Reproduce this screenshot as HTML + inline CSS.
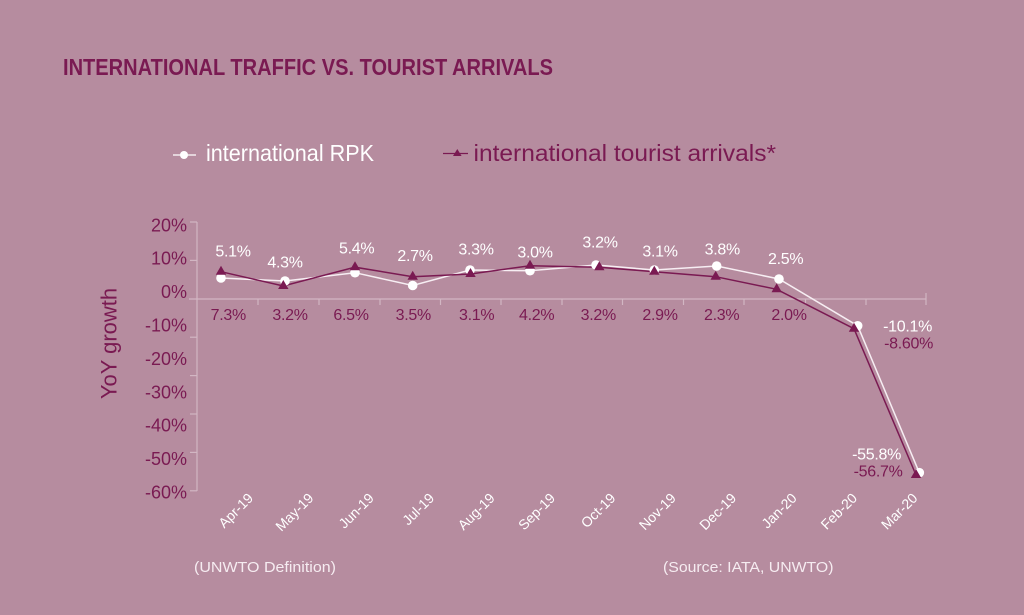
<!DOCTYPE html>
<html>
<head>
<meta charset="utf-8">
<style>
  html, body { margin:0; padding:0; background:#b68c9f; }
  body { width:1024px; height:615px; overflow:hidden; }
  svg { display:block; }
  text { font-family: "Liberation Sans", "DejaVu Sans", sans-serif; }
</style>
</head>
<body>
<svg width="1024" height="615" viewBox="0 0 1024 615" xmlns="http://www.w3.org/2000/svg">
  <rect x="0" y="0" width="1024" height="615" fill="#b68c9f"/>

  <!-- Title -->
  <text x="63" y="75" font-size="23" font-weight="bold" fill="#7a1a52" textLength="490" lengthAdjust="spacingAndGlyphs">INTERNATIONAL TRAFFIC VS. TOURIST ARRIVALS</text>

  <!-- Legend -->
  <line x1="173" y1="155" x2="196" y2="155" stroke="#ffffff" stroke-width="1.3"/>
  <circle cx="184" cy="155" r="4" fill="#ffffff"/>
  <text x="206" y="161" font-size="23" fill="#ffffff" textLength="168" lengthAdjust="spacingAndGlyphs">international RPK</text>

  <line x1="443" y1="153.5" x2="468" y2="153.5" stroke="#7a1a52" stroke-width="1.3"/>
  <polygon points="457.3,149 453,156 461.6,156" fill="#7a1a52"/>
  <text x="473.5" y="161" font-size="23" fill="#7a1a52" textLength="302.5" lengthAdjust="spacingAndGlyphs">international tourist arrivals*</text>

  <!-- Y axis title -->
  <text transform="translate(116.5,343.5) rotate(-90)" text-anchor="middle" font-size="22" fill="#7a1a52">YoY growth</text>

  <!-- Axes -->
  <g stroke="#d2b6c3" stroke-width="1.2" fill="none">
    <line x1="197" y1="222" x2="197" y2="491"/>
    <line x1="190" y1="222" x2="197" y2="222"/>
    <line x1="190" y1="260.4" x2="197" y2="260.4"/>
    <line x1="190" y1="337.2" x2="197" y2="337.2"/>
    <line x1="190" y1="375.6" x2="197" y2="375.6"/>
    <line x1="190" y1="414" x2="197" y2="414"/>
    <line x1="190" y1="452.4" x2="197" y2="452.4"/>
    <line x1="190" y1="490.8" x2="197" y2="490.8"/>
    <line x1="189" y1="299" x2="926" y2="299"/>
    <line x1="258" y1="299" x2="258" y2="305"/>
    <line x1="319" y1="299" x2="319" y2="305"/>
    <line x1="380" y1="299" x2="380" y2="305"/>
    <line x1="440.5" y1="299" x2="440.5" y2="305"/>
    <line x1="501" y1="299" x2="501" y2="305"/>
    <line x1="562" y1="299" x2="562" y2="305"/>
    <line x1="622.5" y1="299" x2="622.5" y2="305"/>
    <line x1="683.5" y1="299" x2="683.5" y2="305"/>
    <line x1="744" y1="299" x2="744" y2="305"/>
    <line x1="805.5" y1="299" x2="805.5" y2="305"/>
    <line x1="866" y1="299" x2="866" y2="305"/>
    <line x1="926" y1="293" x2="926" y2="305"/>
  </g>

  <!-- Y tick labels -->
  <g font-size="18" fill="#7a1a52" text-anchor="end">
    <text x="187" y="231.3">20%</text>
    <text x="187" y="264.7">10%</text>
    <text x="187" y="298.1">0%</text>
    <text x="187" y="331.5">-10%</text>
    <text x="187" y="364.9">-20%</text>
    <text x="187" y="398.3">-30%</text>
    <text x="187" y="431.7">-40%</text>
    <text x="187" y="465.1">-50%</text>
    <text x="187" y="498.5">-60%</text>
  </g>

  <!-- Series lines -->
  <polyline fill="none" stroke="#f7eef3" stroke-width="1.5"
    points="221,278 285,281 355,272.7 412.7,285.5 470,270 530,270.7 596,265 654.3,270 716.7,266 779,279 857.7,325.8 919.3,472.7"/>
  <polyline fill="none" stroke="#7a1a52" stroke-width="1.5"
    points="221,271.7 283.3,286 355,267.2 412.7,276.7 470.5,274 530,265.7 599.3,267.3 654.3,271.7 715.7,276.7 776.7,289.3 854,328.7 916,475"/>

  <g fill="#ffffff">
    <circle cx="221" cy="278" r="4.8"/>
    <circle cx="285" cy="281" r="4.8"/>
    <circle cx="355" cy="272.7" r="4.8"/>
    <circle cx="412.7" cy="285.5" r="4.8"/>
    <circle cx="470" cy="270" r="4.8"/>
    <circle cx="530" cy="270.7" r="4.8"/>
    <circle cx="596" cy="265" r="4.8"/>
    <circle cx="654.3" cy="270" r="4.8"/>
    <circle cx="716.7" cy="266" r="4.8"/>
    <circle cx="779" cy="279" r="4.8"/>
    <circle cx="857.7" cy="325.8" r="4.8"/>
    <circle cx="919.3" cy="472.7" r="4.8"/>
  </g>

  <g fill="#7a1a52">
    <polygon points="221,265.7 215.8,274.7 226.2,274.7"/>
    <polygon points="283.3,280 278.1,289 288.5,289"/>
    <polygon points="355,261.2 349.8,270.2 360.2,270.2"/>
    <polygon points="412.7,270.7 407.5,279.7 417.9,279.7"/>
    <polygon points="470.5,268 465.3,277 475.7,277"/>
    <polygon points="530,259.7 524.8,268.7 535.2,268.7"/>
    <polygon points="599.3,261.3 594.1,270.3 604.5,270.3"/>
    <polygon points="654.3,265.7 649.1,274.7 659.5,274.7"/>
    <polygon points="715.7,270.7 710.5,279.7 720.9,279.7"/>
    <polygon points="776.7,283.3 771.5,292.3 781.9,292.3"/>
    <polygon points="854,322.7 848.8,331.7 859.2,331.7"/>
    <polygon points="916,469 910.8,478 921.2,478"/>
  </g>

  <!-- RPK value labels (white) -->
  <g font-size="16" fill="#ffffff" text-anchor="middle" letter-spacing="-0.3">
    <text x="233" y="256.7">5.1%</text>
    <text x="285" y="267.3">4.3%</text>
    <text x="356.7" y="253.3">5.4%</text>
    <text x="415" y="261">2.7%</text>
    <text x="476" y="254.3">3.3%</text>
    <text x="535" y="257.7">3.0%</text>
    <text x="600" y="247.7">3.2%</text>
    <text x="660" y="256.7">3.1%</text>
    <text x="722.3" y="254.3">3.8%</text>
    <text x="785.7" y="264">2.5%</text>
  </g>
  <g font-size="16" fill="#ffffff" text-anchor="end" letter-spacing="-0.3">
    <text x="932" y="331.7">-10.1%</text>
    <text x="901" y="459.7">-55.8%</text>
  </g>

  <!-- Tourist value labels (maroon) -->
  <g font-size="16" fill="#7a1a52" text-anchor="middle" letter-spacing="-0.3">
    <text x="228.3" y="320">7.3%</text>
    <text x="290" y="320">3.2%</text>
    <text x="351" y="320">6.5%</text>
    <text x="413.3" y="320">3.5%</text>
    <text x="476.7" y="320">3.1%</text>
    <text x="536.7" y="320">4.2%</text>
    <text x="598.3" y="320">3.2%</text>
    <text x="660" y="320">2.9%</text>
    <text x="721.7" y="320">2.3%</text>
    <text x="789" y="320">2.0%</text>
  </g>
  <g font-size="16" fill="#7a1a52" text-anchor="end" letter-spacing="-0.3">
    <text x="933" y="348.3">-8.60%</text>
    <text x="902.5" y="476.7">-56.7%</text>
  </g>

  <!-- Category labels -->
  <g font-size="14" fill="#ffffff" text-anchor="end">
    <text transform="translate(254,499) rotate(-45)">Apr-19</text>
    <text transform="translate(314.4,499) rotate(-45)">May-19</text>
    <text transform="translate(374.8,499) rotate(-45)">Jun-19</text>
    <text transform="translate(435.2,499) rotate(-45)">Jul-19</text>
    <text transform="translate(495.6,499) rotate(-45)">Aug-19</text>
    <text transform="translate(556,499) rotate(-45)">Sep-19</text>
    <text transform="translate(616.4,499) rotate(-45)">Oct-19</text>
    <text transform="translate(676.8,499) rotate(-45)">Nov-19</text>
    <text transform="translate(737.2,499) rotate(-45)">Dec-19</text>
    <text transform="translate(797.6,499) rotate(-45)">Jan-20</text>
    <text transform="translate(858,499) rotate(-45)">Feb-20</text>
    <text transform="translate(918.4,499) rotate(-45)">Mar-20</text>
  </g>

  <!-- Footnotes -->
  <text x="194" y="572" font-size="15" fill="#f6ecf1" textLength="142" lengthAdjust="spacingAndGlyphs">(UNWTO Definition)</text>
  <text x="663" y="572" font-size="15" fill="#f6ecf1" textLength="170.5" lengthAdjust="spacingAndGlyphs">(Source: IATA, UNWTO)</text>
</svg>
</body>
</html>
